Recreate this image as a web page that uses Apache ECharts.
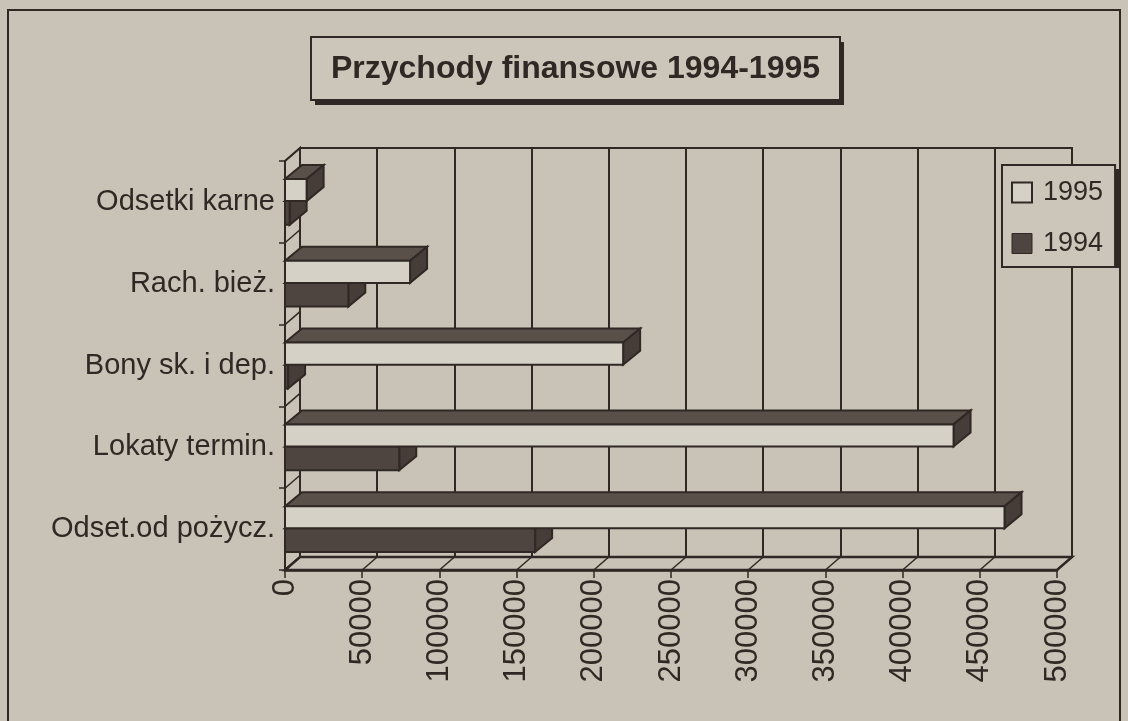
<!DOCTYPE html>
<html><head><meta charset="utf-8">
<script src="https://cdn.jsdelivr.net/npm/echarts@6/dist/echarts.min.js"></script>
<style>html,body{margin:0;padding:0;background:#c9c3b7}#c{width:1128px;height:721px}</style>
</head><body><div id="c"></div>
<script>
// ---- data ----
const titleText = 'Przychody finansowe 1994-1995';
const categories = ['Odsetki karne', 'Rach. bież.', 'Bony sk. i dep.', 'Lokaty termin.', 'Odset.od pożycz.'];
const seriesNames = ['1995', '1994'];
const values1995 = [14000, 81000, 219000, 433000, 466000];
const values1994 = [3000, 41000, 2000, 74000, 162000];
const xTicks = [0, 50000, 100000, 150000, 200000, 250000, 300000, 350000, 400000, 450000, 500000];
const xMin = 0, xMax = 500000, xStep = 50000;

// ---- styles ----
const INK = '#2f2824';
const PAPER = '#c9c3b7';
const BOX = '#ccc6ba';
const LIGHT = '#d6d1c7';
const DARK = '#4e4540';
const TOPF = '#5a504a';
const SIDEF = '#463d38';
const GX = 15, GY = 13;   // wall depth
const BX = 17, BY = 14;   // bar depth
const FONT = '"Liberation Sans", Arial, sans-serif';

const chart = echarts.init(document.getElementById('c'));

function barRender(kind) {
  return function (params, api) {
    const v = api.value(0), ci = api.value(1);
    const p0 = api.coord([xMin, ci]);
    const p1 = api.coord([v, ci]);
    const band = api.size([0, 1])[1];
    let yTop, yBot, front;
    if (kind === 0) { yTop = p0[1] - 0.28 * band; yBot = p0[1] - 0.01 * band; front = LIGHT; }
    else { yTop = p0[1] - 0.01 * band; yBot = p0[1] + 0.28 * band; front = DARK; }
    const x0 = p0[0], x1 = p1[0];
    return {
      type: 'group',
      children: [
        { type: 'polygon', shape: { points: [[x0, yTop], [x1, yTop], [x1 + BX, yTop - BY], [x0 + BX, yTop - BY]] },
          style: { fill: TOPF, stroke: INK, lineWidth: 2 } },
        { type: 'polygon', shape: { points: [[x1, yTop], [x1 + BX, yTop - BY], [x1 + BX, yBot - BY], [x1, yBot]] },
          style: { fill: SIDEF, stroke: INK, lineWidth: 2 } },
        { type: 'rect', shape: { x: x0, y: yTop, width: Math.max(x1 - x0, 0), height: yBot - yTop },
          style: { fill: front, stroke: INK, lineWidth: 2 } }
      ]
    };
  };
}

function frameRender(params, api) {
  const band = api.size([0, 1])[1];
  const n = categories.length;
  const topY = api.coord([xMin, 0])[1] - band / 2;
  const botY = api.coord([xMin, n - 1])[1] + band / 2;
  const leftX = api.coord([xMin, 0])[0];
  const rightX = api.coord([xMax, 0])[0];
  const ch = [];
  ch.push({ type: 'polygon', shape: { points: [[leftX, topY], [leftX + GX, topY - GY], [leftX + GX, botY - GY], [leftX, botY]] },
    style: { fill: PAPER, stroke: INK, lineWidth: 2 } });
  ch.push({ type: 'polygon', shape: { points: [[leftX, botY], [rightX, botY], [rightX + GX, botY - GY], [leftX + GX, botY - GY]] },
    style: { fill: PAPER, stroke: INK, lineWidth: 2.5 } });
  xTicks.forEach(t => {
    const x = api.coord([t, 0])[0];
    ch.push({ type: 'line', shape: { x1: x, y1: botY, x2: x + GX, y2: botY - GY }, style: { stroke: INK, lineWidth: 1.5 } });
  });
  for (let k = 0; k <= n; k++) {
    const y = topY + k * band;
    ch.push({ type: 'line', shape: { x1: leftX, y1: y, x2: leftX + GX, y2: y - GY }, style: { stroke: INK, lineWidth: 1.5 } });
  }
  return { type: 'group', children: ch };
}

const option = {
  backgroundColor: PAPER,
  animation: false,
  legend: {
    orient: 'vertical', left: 1002, top: 165,
    data: [
      { name: seriesNames[0], icon: 'rect', itemStyle: { color: LIGHT, borderColor: INK, borderWidth: 2 } },
      { name: seriesNames[1], icon: 'rect', itemStyle: { color: DARK, borderColor: INK, borderWidth: 1 } }
    ],
    itemWidth: 20, itemHeight: 20, itemGap: 24,
    padding: [14, 12, 10, 9],
    backgroundColor: BOX, borderColor: INK, borderWidth: 2,
    textStyle: { fontFamily: FONT, fontSize: 27, color: INK, padding: [0, 0, 0, 6] }
  },
  graphic: [
    { type: 'rect', shape: { x: 8, y: 10, width: 1112, height: 730 },
      style: { fill: 'none', stroke: INK, lineWidth: 2 }, z: -10, silent: true },
    { type: 'rect', shape: { x: 315, y: 42, width: 529, height: 63 }, style: { fill: INK }, z: 10, silent: true },
    { type: 'rect', shape: { x: 311, y: 37, width: 529, height: 63 }, style: { fill: BOX, stroke: INK, lineWidth: 2 }, z: 11, silent: true },
    { type: 'text', x: 575.5, y: 69, z: 12, silent: true,
      style: { text: titleText, fontFamily: FONT, fontWeight: 'bold', fontSize: 32, fill: INK, align: 'center', verticalAlign: 'middle' } },
    { type: 'rect', shape: { x: 1006, y: 169, width: 114, height: 99 }, style: { fill: INK }, z: 0, silent: true }
  ],
  grid: [
    { left: 285, top: 161, width: 772, height: 409 },
    { left: 285 + GX, top: 161 - GY, width: 772, height: 409, show: true, borderColor: INK, borderWidth: 2, backgroundColor: 'transparent' }
  ],
  xAxis: [
    { type: 'value', gridIndex: 0, min: xMin, max: xMax, interval: xStep,
      axisLine: { show: true, lineStyle: { color: INK, width: 2.5 } },
      axisTick: { show: true, length: 8, lineStyle: { color: INK, width: 1.5 } },
      splitLine: { show: false },
      axisLabel: { rotate: 90, margin: 9, fontFamily: FONT, fontSize: 31, color: INK,
        formatter: v => String(xTicks[xTicks.indexOf(v)] ?? v) } },
    { type: 'value', gridIndex: 1, min: xMin, max: xMax, interval: xStep,
      axisLine: { show: false }, axisTick: { show: false }, axisLabel: { show: false },
      splitLine: { show: true, lineStyle: { color: INK, width: 2 } } }
  ],
  yAxis: [
    { type: 'category', gridIndex: 0, data: categories, inverse: true,
      axisLine: { show: true, lineStyle: { color: INK, width: 2 } },
      axisTick: { show: true, length: 6, lineStyle: { color: INK, width: 1.5 } },
      axisLabel: { margin: 10, fontFamily: FONT, fontSize: 29, color: INK } },
    { type: 'value', gridIndex: 1, show: false, splitLine: { show: false } }
  ],
  series: [
    { type: 'custom', name: 'frame', xAxisIndex: 0, yAxisIndex: 0, z: 1, silent: true,
      renderItem: frameRender, data: [[0, 0]], encode: { x: 0, y: 1 } },
    { type: 'custom', name: seriesNames[1], xAxisIndex: 0, yAxisIndex: 0, z: 3,
      itemStyle: { color: DARK },
      renderItem: barRender(1), encode: { x: 0, y: 1 },
      data: values1994.map((v, i) => [v, i]) },
    { type: 'custom', name: seriesNames[0], xAxisIndex: 0, yAxisIndex: 0, z: 4,
      itemStyle: { color: LIGHT },
      renderItem: barRender(0), encode: { x: 0, y: 1 },
      data: values1995.map((v, i) => [v, i]) }
  ]
};
chart.setOption(option);
</script></body></html>
